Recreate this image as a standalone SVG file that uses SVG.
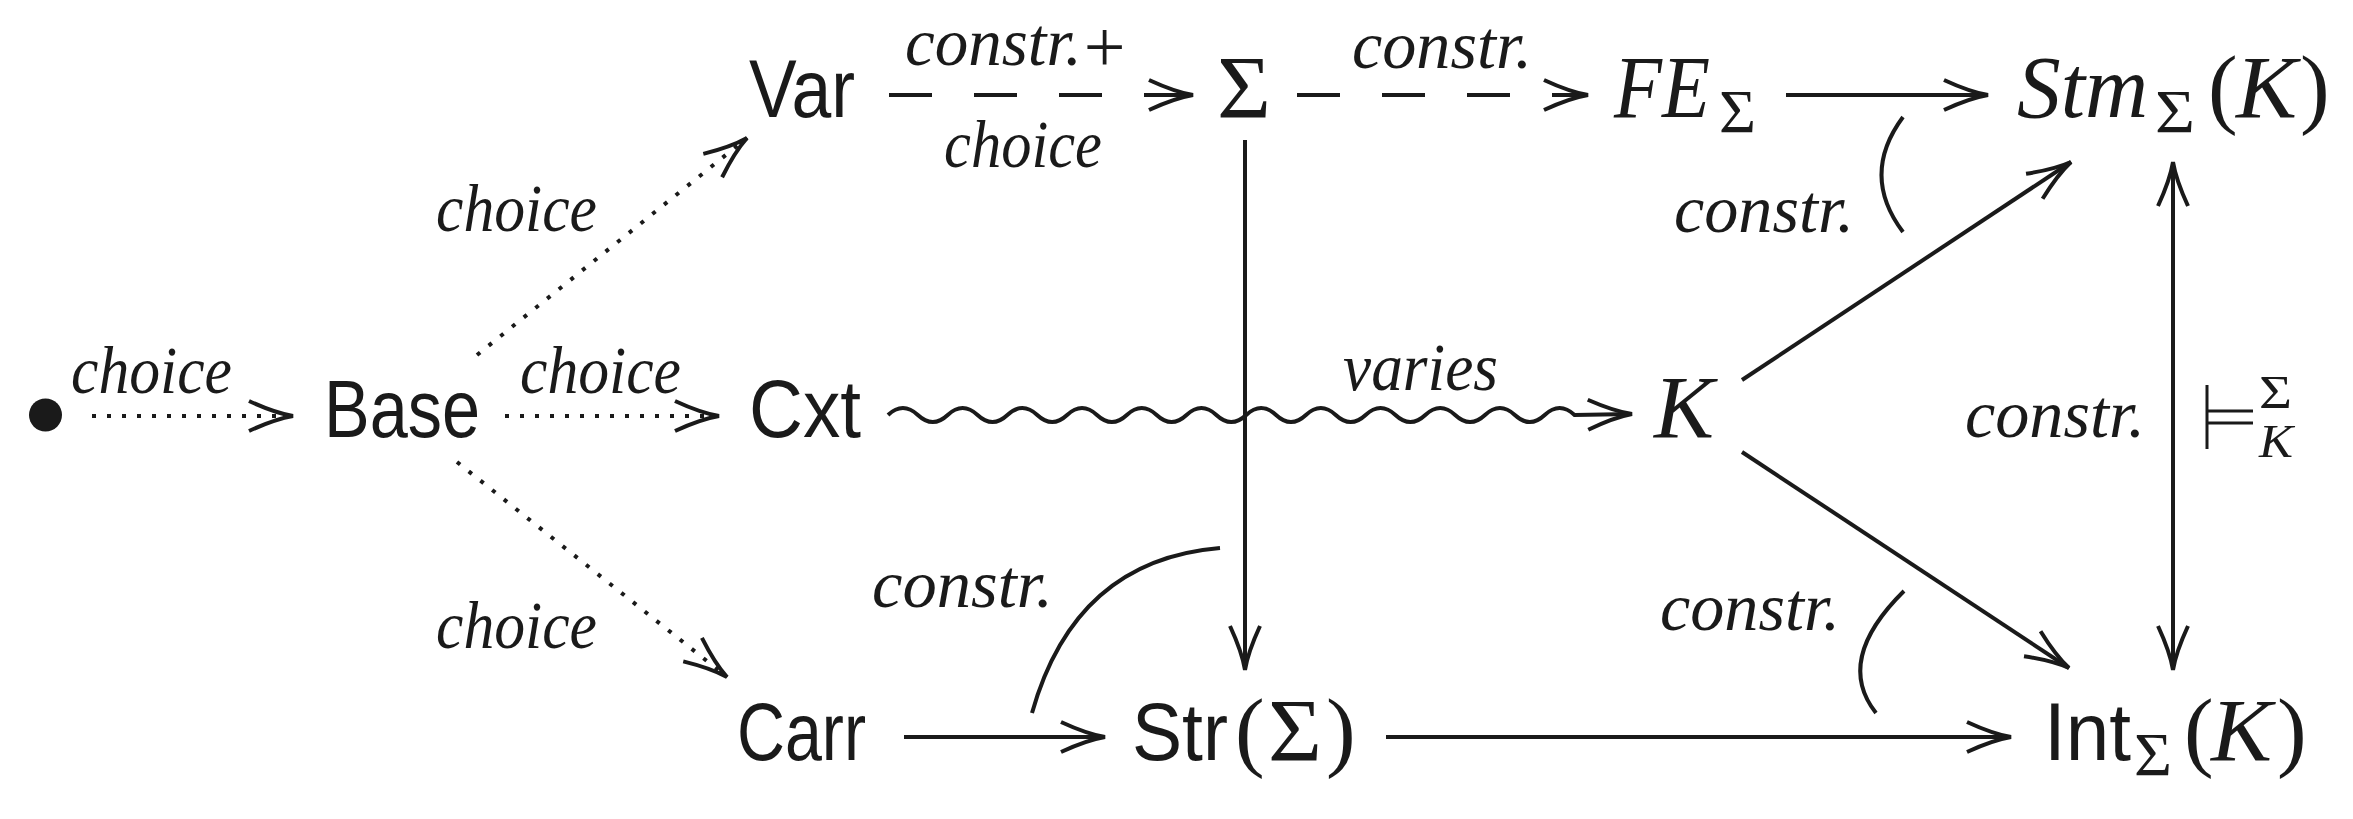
<svg xmlns="http://www.w3.org/2000/svg" width="2353" height="819" viewBox="0 0 2353 819">
<style>
.sans{font-family:"Liberation Sans",Arial,sans-serif;font-size:82px;fill:#1a1a1a}
.mi{font-family:"Liberation Serif","Times New Roman",serif;font-style:italic;font-size:89px;fill:#1a1a1a}
.up{font-family:"Liberation Serif","Times New Roman",serif;font-size:89px;fill:#1a1a1a}
.sub{font-family:"Liberation Serif","Times New Roman",serif;font-size:61px;fill:#1a1a1a}
.lab{font-family:"Liberation Serif","Times New Roman",serif;font-style:italic;font-size:67px;fill:#1a1a1a}
.ln{fill:none;stroke:#1a1a1a;stroke-width:4}
.dot{stroke-dasharray:4 11}
.dash{stroke-dasharray:43 42}
.arc{fill:none;stroke:#1a1a1a;stroke-width:4}
</style>
<defs>
<marker id="ah" markerUnits="userSpaceOnUse" viewBox="-50 -20 56 40" refX="0" refY="0" markerWidth="56" markerHeight="40" orient="auto" overflow="visible">
<path d="M -44 -15 Q -18 -3 0 0 Q -18 3 -44 15" fill="none" stroke="#1a1a1a" stroke-width="4" stroke-dasharray="none"/>
</marker>
<marker id="ahs" markerUnits="userSpaceOnUse" viewBox="-50 -20 56 40" refX="0" refY="0" markerWidth="56" markerHeight="40" orient="auto-start-reverse" overflow="visible">
<path d="M -44 -15 Q -18 -3 0 0 Q -18 3 -44 15" fill="none" stroke="#1a1a1a" stroke-width="4" stroke-dasharray="none"/>
</marker>
</defs>
<rect width="2353" height="819" fill="#ffffff"/>

<g id="node-start"><circle cx="45.5" cy="415" r="16.5" fill="#1a1a1a"/></g>
<g id="node-base"><text class="sans" x="324" y="437" textLength="156" lengthAdjust="spacingAndGlyphs">Base</text></g>
<g id="node-var"><text class="sans" x="749" y="117" textLength="106" lengthAdjust="spacingAndGlyphs">Var</text></g>
<g id="node-cxt"><text class="sans" x="749" y="437" textLength="112" lengthAdjust="spacingAndGlyphs">Cxt</text></g>
<g id="node-carr"><text class="sans" x="737" y="760" textLength="129" lengthAdjust="spacingAndGlyphs">Carr</text></g>
<g id="node-sigma"><text class="up" x="1217" y="117" textLength="54" lengthAdjust="spacingAndGlyphs">Σ</text></g>
<g id="node-fe"><text class="mi" x="1614" y="117" textLength="96" lengthAdjust="spacingAndGlyphs">FE</text><text class="sub" x="1719" y="132" textLength="37" lengthAdjust="spacingAndGlyphs">Σ</text></g>
<g id="node-stm"><text class="mi" x="2017" y="117" textLength="131" lengthAdjust="spacingAndGlyphs">Stm</text><text class="sub" x="2155" y="132" textLength="40" lengthAdjust="spacingAndGlyphs">Σ</text><text class="up" x="2208" y="117">(</text><text class="mi" x="2236" y="117" textLength="61" lengthAdjust="spacingAndGlyphs">K</text><text class="up" x="2300" y="117">)</text></g>
<g id="node-k"><text class="mi" x="1654" y="437" textLength="60" lengthAdjust="spacingAndGlyphs">K</text></g>
<g id="node-str"><text class="sans" x="1132" y="760" textLength="96" lengthAdjust="spacingAndGlyphs">Str</text><text class="up" x="1235" y="760">(</text><text class="up" x="1268" y="760" textLength="54" lengthAdjust="spacingAndGlyphs">Σ</text><text class="up" x="1326" y="760">)</text></g>
<g id="node-int"><text class="sans" x="2044" y="760" textLength="87" lengthAdjust="spacingAndGlyphs">Int</text><text class="sub" x="2134" y="775" textLength="38" lengthAdjust="spacingAndGlyphs">Σ</text><text class="up" x="2184" y="760">(</text><text class="mi" x="2211" y="760" textLength="61" lengthAdjust="spacingAndGlyphs">K</text><text class="up" x="2277" y="760">)</text></g>

<g id="connectors">
<path class="ln dot" d="M 92 416 L 293 416" marker-end="url(#ah)"/>
<text class="lab" x="71" y="393" textLength="161" lengthAdjust="spacingAndGlyphs">choice</text>
<path class="ln dot" d="M 505 416 L 719 416" marker-end="url(#ah)"/>
<text class="lab" x="520" y="393" textLength="161" lengthAdjust="spacingAndGlyphs">choice</text>
<path class="ln dot" d="M 477 355 L 747 138" marker-end="url(#ah)"/>
<text class="lab" x="436" y="231" textLength="161" lengthAdjust="spacingAndGlyphs">choice</text>
<path class="ln dot" d="M 457 462 L 727 677" marker-end="url(#ah)"/>
<text class="lab" x="436" y="648" textLength="161" lengthAdjust="spacingAndGlyphs">choice</text>

<path class="ln dash" d="M 889 95 L 1193 95" marker-end="url(#ah)"/>
<text class="lab" x="905" y="65">constr.<tspan dx="2" dy="7" style="font-style:normal;font-size:74px">+</tspan></text>
<text class="lab" x="944" y="167" textLength="158" lengthAdjust="spacingAndGlyphs">choice</text>

<path class="ln dash" d="M 1297 95 L 1588 95" marker-end="url(#ah)"/>
<text class="lab" x="1352" y="68" textLength="180" lengthAdjust="spacingAndGlyphs">constr.</text>

<path class="ln" d="M 1786 95 L 1988 95" marker-end="url(#ah)"/>
<path class="arc" d="M 1903 117 Q 1860 175 1903 232"/>
<text class="lab" x="1674" y="232" textLength="180" lengthAdjust="spacingAndGlyphs">constr.</text>

<path class="ln" d="M 1245 140 L 1245 670" marker-end="url(#ah)"/>

<path class="ln" d="M 888 415 q 14.925 -14 29.85 0 t 29.85 0 t 29.85 0 t 29.85 0 t 29.85 0 t 29.85 0 t 29.85 0 t 29.85 0 t 29.85 0 t 29.85 0 t 29.85 0 t 29.85 0 t 29.85 0 t 29.85 0 t 29.85 0 t 29.85 0 t 29.85 0 t 29.85 0 t 29.85 0 t 29.85 0 t 29.85 0 t 29.85 0 t 29.85 0 L 1632 414" marker-end="url(#ah)"/>
<text class="lab" x="1343" y="390" textLength="155" lengthAdjust="spacingAndGlyphs">varies</text>

<path class="ln" d="M 1742 380 L 2071 162" marker-end="url(#ah)"/>
<path class="ln" d="M 1742 452 L 2069 668" marker-end="url(#ah)"/>

<path class="ln" d="M 2173 162 L 2173 670" marker-start="url(#ahs)" marker-end="url(#ahs)"/>
<text class="lab" x="1965" y="437" textLength="180" lengthAdjust="spacingAndGlyphs">constr.</text>
<path class="ln" style="stroke-width:3" d="M 2207 385 L 2207 449 M 2207 411 L 2253 411 M 2207 423 L 2253 423"/>
<text class="up" x="2259" y="408" style="font-size:47px" textLength="33" lengthAdjust="spacingAndGlyphs">Σ</text>
<text class="mi" x="2259" y="457" style="font-size:47px" textLength="34" lengthAdjust="spacingAndGlyphs">K</text>

<path class="ln" d="M 904 737 L 1105 737" marker-end="url(#ah)"/>
<path class="arc" d="M 1032 713 Q 1075 560 1220 548"/>
<text class="lab" x="872" y="607" textLength="181" lengthAdjust="spacingAndGlyphs">constr.</text>

<path class="ln" d="M 1386 737 L 2011 737" marker-end="url(#ah)"/>
<path class="arc" d="M 1904 591 Q 1834 660 1876 713"/>
<text class="lab" x="1660" y="630" textLength="180" lengthAdjust="spacingAndGlyphs">constr.</text>
</g>
</svg>
